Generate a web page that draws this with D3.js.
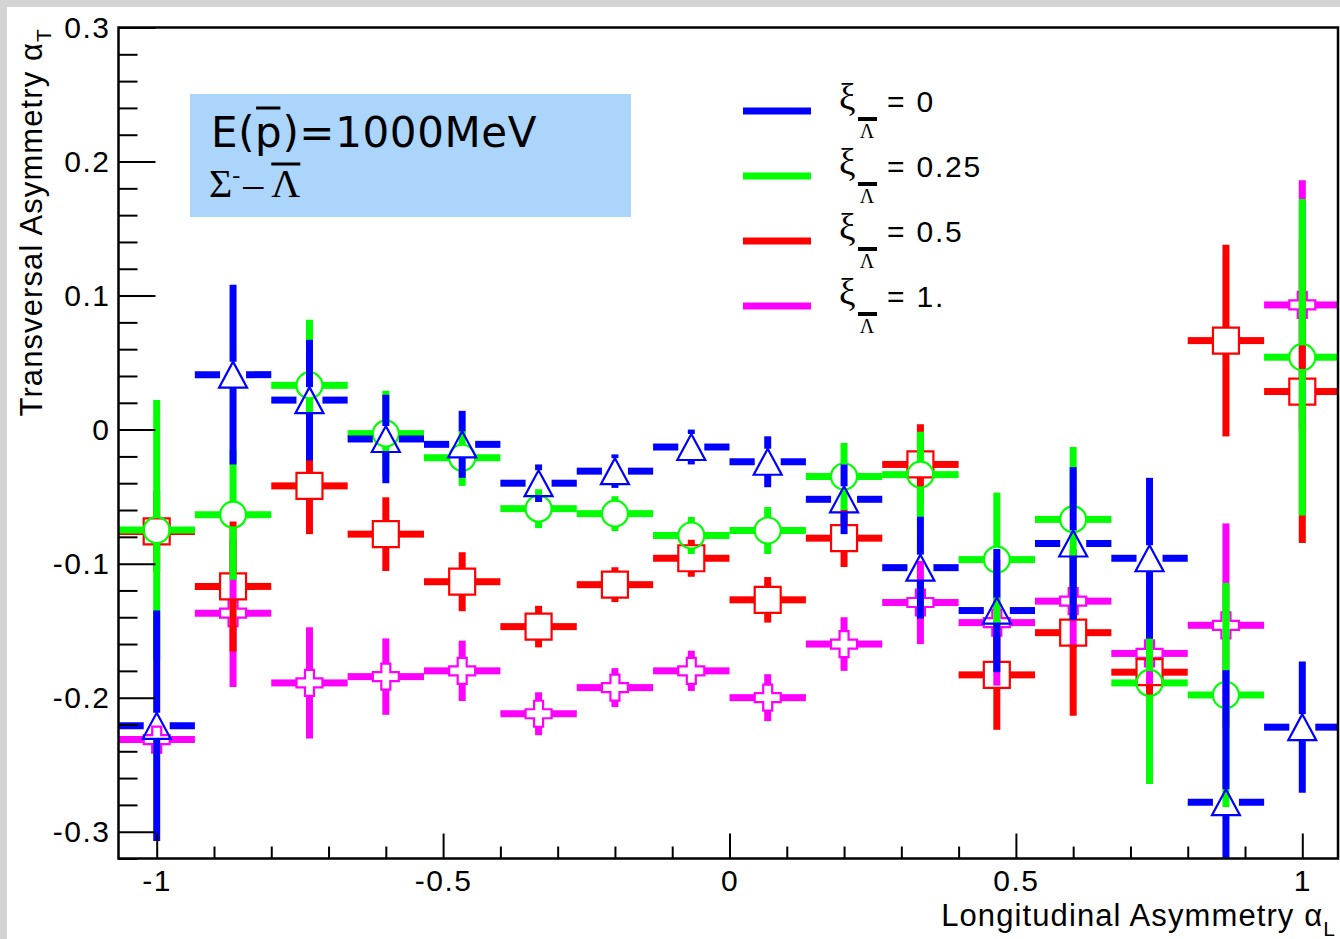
<!DOCTYPE html>
<html><head><meta charset="utf-8">
<script src="https://cdn.jsdelivr.net/npm/d3@7"></script>
<style>body{margin:0;background:#fff;} svg{display:block}</style>
</head><body>
<svg id="c" width="1340" height="939"></svg>
<script>
// ---------------- data ----------------
const binCenters = [-1, -0.8667, -0.7333, -0.6, -0.4667, -0.3333, -0.2, -0.0667, 0.0667, 0.2, 0.3333, 0.4667, 0.6, 0.7333, 0.8667, 1];
const binHalfWidth = 0.0667;

const xi0Vals  = [-0.221, 0.041, 0.022, -0.007, -0.011, -0.040, -0.031, -0.013, -0.024, -0.052, -0.103, -0.135, -0.085, -0.096, -0.278, -0.222];
const xi0Errs  = [0.086, 0.067, 0.045, 0.033, 0.025, 0.014, 0.0125, 0.013, 0.019, 0.026, 0.038, 0.046, 0.057, 0.060, 0.0985, 0.049];

const xi025Vals = [-0.075, -0.0635, 0.033, -0.003, -0.021, -0.059, -0.0627, -0.079, -0.0753, -0.035, -0.0336, -0.097, -0.067, -0.189, -0.198, 0.054];
const xi025Errs = [0.097, 0.0485, 0.049, 0.032, 0.021, 0.0145, 0.013, 0.0138, 0.0175, 0.025, 0.032, 0.05, 0.054, 0.0755, 0.0836, 0.118];

const xi05Vals = [-0.076, -0.117, -0.042, -0.078, -0.1135, -0.147, -0.1157, -0.096, -0.127, -0.081, -0.026, -0.183, -0.1515, -0.181, 0.0664, 0.0284];
const xi05Errs = [0.03, 0.0485, 0.036, 0.0275, 0.022, 0.0155, 0.013, 0.0138, 0.017, 0.0215, 0.03, 0.041, 0.062, 0.02, 0.0715, 0.113];

const xi1Vals  = [-0.2313, -0.137, -0.189, -0.1843, -0.18, -0.212, -0.1925, -0.18, -0.2, -0.16, -0.129, -0.144, -0.128, -0.167, -0.146, 0.093];
const xi1Errs  = [0.01, 0.055, 0.0415, 0.0285, 0.0225, 0.016, 0.0145, 0.015, 0.0175, 0.02, 0.031, 0.047, 0.035, 0.026, 0.076, 0.093];

const legendLabels = ["= 0", "= 0.25", "= 0.5", "= 1."];
const xMajorTicks = [-1, -0.5, 0, 0.5, 1];
const xTickLabels = ["-1", "-0.5", "0", "0.5", "1"];
const yMajorTicks = [-0.3, -0.2, -0.1, 0, 0.1, 0.2, 0.3];
const yTickLabels = ["-0.3", "-0.2", "-0.1", "0", "0.1", "0.2", "0.3"];
const xDomain = [-1.0667, 1.0667];
const yDomain = [-0.32, 0.3];

// ---------------- layout ----------------
const svg = d3.select("#c");
const L = 118.5, R = 1338, T = 27.5, B = 858.5;
const x = d3.scaleLinear().domain(xDomain).range([L, 1340.5]);
const y = d3.scaleLinear().domain(yDomain).range([B, T]);
const FONT = "'Liberation Sans', Arial, sans-serif";
const SERIF = "'Liberation Serif', 'Times New Roman', serif";

svg.append("rect").attr("width", 1340).attr("height", 939).attr("fill", "#fff");
svg.append("rect").attr("width", 1340).attr("height", 7).attr("fill", "#d4d4d4");
svg.append("rect").attr("width", 7).attr("height", 939).attr("fill", "#d4d4d4");

// clip
svg.append("clipPath").attr("id", "pc").append("rect")
  .attr("x", L).attr("y", T).attr("width", R - L).attr("height", B - T);

// info box
svg.append("rect").attr("x", 190).attr("y", 94).attr("width", 441).attr("height", 123).attr("fill", "#acd5fb");
const e1 = svg.append("text").attr("x", 211).attr("y", 147)
  .style("font-family", "'DejaVu Sans', sans-serif").style("font-size", "42px").attr("fill", "#000")
  .style("letter-spacing", "0.6px")
  .text("E(p)=1000MeV");
const pb = e1.node().getExtentOfChar(2);
svg.append("line").attr("x1", pb.x + 1).attr("x2", pb.x + pb.width - 2).attr("y1", 108).attr("y2", 108)
  .attr("stroke", "#000").attr("stroke-width", 3);
const s1 = svg.append("text").attr("x", 209).attr("y", 197)
  .style("font-family", SERIF).style("font-size", "40px").attr("fill", "#000");
s1.append("tspan").text("Σ");
s1.append("tspan").attr("dy", -14).style("font-size", "24px").text("-");
s1.append("tspan").attr("dy", 14).attr("dx", 3).text("–");
s1.append("tspan").attr("dx", 8).text("Λ");
const lb = s1.node().getExtentOfChar(3);
svg.append("line").attr("x1", lb.x).attr("x2", lb.x + lb.width).attr("y1", 164).attr("y2", 164)
  .attr("stroke", "#000").attr("stroke-width", 3);

// legend
const series = [
  {vals: xi0Vals, errs: xi0Errs, color: "#0000ff", marker: "tri"},
  {vals: xi025Vals, errs: xi025Errs, color: "#00ff00", marker: "circ"},
  {vals: xi05Vals, errs: xi05Errs, color: "#ff0000", marker: "sq"},
  {vals: xi1Vals, errs: xi1Errs, color: "#ff00ff", marker: "cross"}
];
const lg = svg.append("g");
series.forEach((s, k) => {
  const yy = 111 + k * 65;
  lg.append("line").attr("x1", 743).attr("x2", 811).attr("y1", yy).attr("y2", yy)
    .attr("stroke", s.color).attr("stroke-width", 7);
  lg.append("text").attr("x", 839).attr("y", yy - 1).style("font-family", SERIF).style("font-size", "37px").text("ξ");
  lg.append("rect").attr("x", 858).attr("y", yy + 6).attr("width", 19).attr("height", 4).attr("fill", "#000");
  lg.append("text").attr("x", 867).attr("y", yy + 27).attr("text-anchor", "middle")
    .style("font-family", SERIF).style("font-size", "20px").text("Λ");
  lg.append("text").attr("x", 887).attr("y", yy + 1).style("font-family", FONT).style("font-size", "30px")
    .style("letter-spacing", "1.8px").text(legendLabels[k]);
});

// data marks
const plot = svg.append("g").attr("clip-path", "url(#pc)");
const GAP = 13;
function markerPath(type) {
  if (type === "tri") return "M0,-13L14,13L-14,13Z";
  if (type === "circ") return "M13,0A13,13 0 1,1 -13,0A13,13 0 1,1 13,0Z";
  if (type === "sq") return "M-13,-13H13V13H-13Z";
  const a = 4.5, r = 13;
  return `M${-a},${-r}H${a}V${-a}H${r}V${a}H${a}V${r}H${-a}V${a}H${-r}V${-a}H${-a}Z`;
}
[3, 2, 1, 0].forEach(k => {
  const s = series[k];
  const data = binCenters.map((c, i) => ({c, v: s.vals[i], e: s.errs[i]}));
  const g = plot.append("g");
  const segs = [];
  data.forEach(d => {
    const cx = x(d.c), cy = y(d.v);
    segs.push([x(d.c - binHalfWidth), cy, cx - GAP, cy]);
    segs.push([cx + GAP, cy, x(d.c + binHalfWidth), cy]);
    const yt = y(d.v + d.e), yb = y(d.v - d.e);
    if (yt < cy - GAP) segs.push([cx, yt, cx, cy - GAP]);
    if (yb > cy + GAP) segs.push([cx, cy + GAP, cx, yb]);
  });
  g.selectAll("line").data(segs).join("line")
    .attr("x1", d => d[0]).attr("y1", d => d[1]).attr("x2", d => d[2]).attr("y2", d => d[3])
    .attr("stroke", s.color).attr("stroke-width", 7);
  g.selectAll("path").data(data).join("path")
    .attr("transform", d => `translate(${x(d.c)},${y(d.v)})`)
    .attr("d", markerPath(s.marker))
    .attr("fill", "none").attr("stroke", s.color).attr("stroke-width", 2.2);
});

// axes
const xMinor = d3.range(-10, 11).map(i => i / 10).filter(v => !xMajorTicks.some(m => Math.abs(m - v) < 1e-9));
const yMinor = d3.range(-16, 16).map(i => i / 50).filter(v => !yMajorTicks.some(m => Math.abs(m - v) < 1e-9) && v >= yDomain[0] - 1e-9);

const gxMinor = svg.append("g").attr("transform", `translate(0,${B})`)
  .call(d3.axisBottom(x).tickValues(xMinor).tickSize(-12).tickFormat(""));
const gx = svg.append("g").attr("transform", `translate(0,${B})`)
  .call(d3.axisBottom(x).tickValues(xMajorTicks).tickSize(-25).tickPadding(11)
    .tickFormat((d, i) => xTickLabels[i]));
const gyMinor = svg.append("g").attr("transform", `translate(${L},0)`)
  .call(d3.axisLeft(y).tickValues(yMinor).tickSize(-19).tickFormat(""));
const gy = svg.append("g").attr("transform", `translate(${L},0)`)
  .call(d3.axisLeft(y).tickValues(yMajorTicks).tickSize(-37).tickPadding(8)
    .tickFormat((d, i) => yTickLabels[i]));
[gxMinor, gx, gyMinor, gy].forEach(g => {
  g.select(".domain").remove();
  g.selectAll("line").attr("stroke", "#000").attr("stroke-width", 2);
  g.selectAll("text").style("font-family", FONT).style("font-size", "30px")
    .style("letter-spacing", "1.5px").attr("fill", "#000");
});

// frame
svg.append("rect").attr("x", L).attr("y", T).attr("width", R - L).attr("height", B - T)
  .attr("fill", "none").attr("stroke", "#000").attr("stroke-width", 2.5);

// axis titles
const xt = svg.append("text").attr("x", 1336).attr("y", 926).attr("text-anchor", "end")
  .style("font-family", FONT).style("font-size", "31px").style("letter-spacing", "1.1px");
xt.append("tspan").text("Longitudinal Asymmetry α");
xt.append("tspan").attr("dy", 10).style("font-size", "21px").text("L");

const yt = svg.append("text").attr("transform", "translate(42,28) rotate(-90)").attr("text-anchor", "end")
  .style("font-family", FONT).style("font-size", "31px").style("letter-spacing", "1.1px");
yt.append("tspan").text("Transversal Asymmetry α");
yt.append("tspan").attr("dy", 9).style("font-size", "21px").text("T");
</script>
</body></html>
